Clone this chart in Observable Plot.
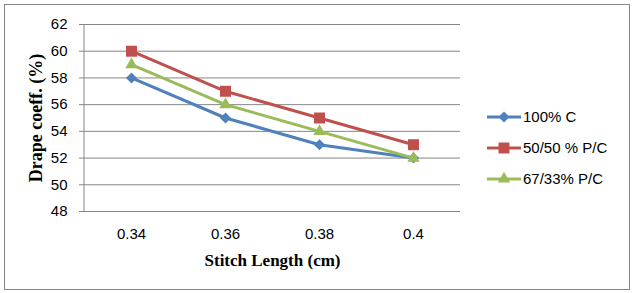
<!DOCTYPE html>
<html>
<head>
<meta charset="utf-8">
<script src="https://cdn.jsdelivr.net/npm/d3@7"></script>
<script src="https://cdn.jsdelivr.net/npm/@observablehq/plot@0.6"></script>
<style>
  html, body { margin: 0; padding: 0; background: #fff; }
  #chart { width: 635px; height: 293px; }
</style>
</head>
<body>
<div id="chart"></div>
<script>
const categories = ["0.34", "0.36", "0.38", "0.4"];
const seriesNames = ["100% C", "50/50 % P/C", "67/33% P/C"];
const values100C = [58, 55, 53, 52];
const values5050 = [60, 57, 55, 53];
const values6733 = [59, 56, 54, 52];
const yTicks = [48, 50, 52, 54, 56, 58, 60, 62];
const colors = ["#4F81BD", "#C0504D", "#9BBB59"];
const symbols = ["diamond2", "square", "triangle"];
const radii = [5, 6.2, 4.6];

const seriesValues = [values100C, values5050, values6733];
const data = [];
seriesValues.forEach((vals, si) => vals.forEach((v, i) => data.push({series: seriesNames[si], x: categories[i], y: v})));

const tickFont = "'Liberation Sans', Arial, sans-serif";
const titleFont = "'Liberation Serif', 'Times New Roman', serif";
const grid = "#868686";

const marks = [
  Plot.gridY(yTicks, {stroke: grid, strokeOpacity: 1, strokeWidth: 1}),
  Plot.axisY(yTicks, {tickSize: 5, tickPadding: 12, stroke: grid, strokeOpacity: 1, label: null, fontSize: 15, fill: "#000"}),
  Plot.axisX({tickSize: 0, tickPadding: 17, label: null, fontSize: 15, fill: "#000"}),
  Plot.text(["Stitch Length (cm)"], {frameAnchor: "bottom", dy: 49, textAnchor: "middle", fontSize: 17, fontWeight: "bold", fontFamily: titleFont, fill: "#000", lineAnchor: "middle"}),
  Plot.text(["Drape coeff. (%)"], {frameAnchor: "left", dx: -48, textAnchor: "middle", rotate: -90, fontSize: 18, fontWeight: "bold", fontFamily: titleFont, fill: "#000", lineAnchor: "middle"})
];
seriesNames.forEach((name, si) => {
  const d = data.filter(r => r.series === name);
  marks.push(Plot.line(d, {x: "x", y: "y", stroke: colors[si], strokeWidth: 3}));
  marks.push(Plot.dot(d, {x: "x", y: "y", symbol: symbols[si], fill: colors[si], r: radii[si], stroke: "none"}));
});

const chart = Plot.plot({
  width: 635,
  height: 293,
  marginLeft: 84,
  marginRight: 175,
  marginTop: 24,
  marginBottom: 82,
  style: {fontFamily: tickFont, fontSize: "15px", background: "#fff", color: "#000"},
  x: {type: "point", domain: categories, padding: 0.5},
  y: {domain: [48, 62]},
  marks
});
document.getElementById("chart").appendChild(chart);

// decorations: y axis line, outer border, legend
const svg = d3.select(chart);
const yr = chart.scale("y").range;
const xLeft = 84;
svg.append("line").attr("x1", xLeft).attr("x2", xLeft).attr("y1", yr[0]).attr("y2", yr[1]).attr("stroke", grid);
svg.append("rect").attr("x", 4.5).attr("y", 4.5).attr("width", 625).attr("height", 285)
  .attr("fill", "none").attr("stroke", grid);

const legendX = 487, legendY0 = 117, legendStep = 31;
const symMap = {diamond2: d3.symbolDiamond2, square: d3.symbolSquare, triangle: d3.symbolTriangle};
seriesNames.forEach((name, si) => {
  const g = svg.append("g").attr("transform", `translate(${legendX},${legendY0 + si * legendStep})`);
  g.append("line").attr("x1", 0).attr("x2", 34).attr("y1", 0).attr("y2", 0).attr("stroke", colors[si]).attr("stroke-width", 3);
  g.append("path").attr("transform", "translate(17,0)")
    .attr("d", d3.symbol(symMap[symbols[si]], Math.PI * radii[si] * radii[si])())
    .attr("fill", colors[si]);
  g.append("text").attr("x", 36).attr("y", 0).attr("dy", "0.35em").attr("text-anchor", "start")
    .attr("font-family", tickFont).attr("font-size", 15).attr("fill", "#000").text(name);
});
</script>
</body>
</html>
